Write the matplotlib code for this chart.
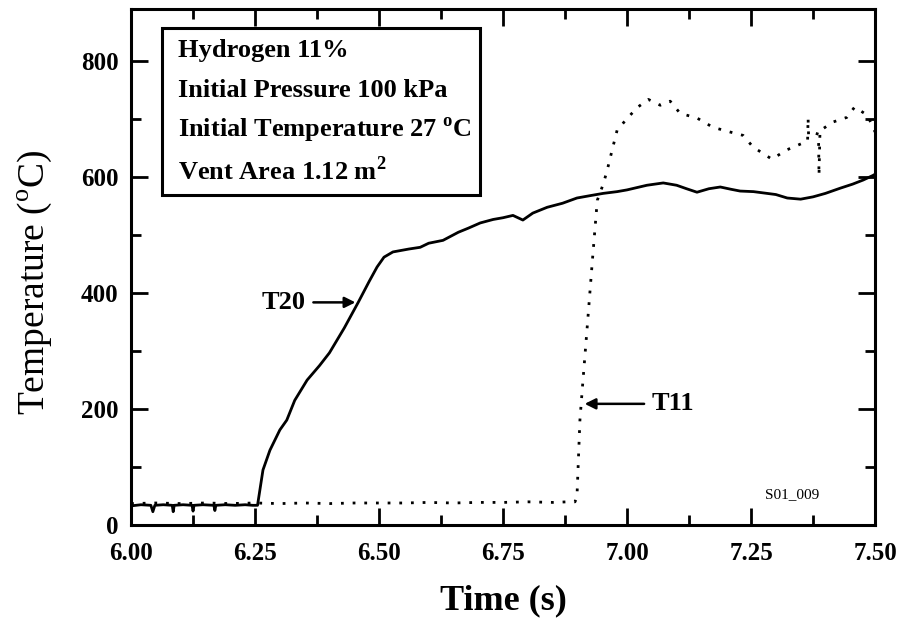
import matplotlib
matplotlib.use("Agg")
import matplotlib.pyplot as plt
from matplotlib.ticker import MultipleLocator

# T20 thermocouple (solid)
t20_time = [6.000, 6.020, 6.040, 6.044, 6.048, 6.065, 6.083, 6.085, 6.087, 6.105,
            6.123, 6.125, 6.127, 6.145, 6.167, 6.169, 6.171, 6.190, 6.210, 6.230,
            6.245, 6.255, 6.266, 6.280, 6.300, 6.314, 6.330, 6.355, 6.380, 6.400,
            6.430, 6.458, 6.480, 6.496, 6.510, 6.528, 6.560, 6.583, 6.600, 6.629,
            6.660, 6.680, 6.704, 6.730, 6.750, 6.770, 6.790, 6.810, 6.839, 6.870,
            6.899, 6.925, 6.952, 6.980, 7.000, 7.020, 7.040, 7.073, 7.100, 7.120,
            7.141, 7.165, 7.188, 7.210, 7.228, 7.255, 7.282, 7.300, 7.323, 7.350,
            7.375, 7.400, 7.430, 7.455, 7.476, 7.496, 7.500]
t20_temp = [33, 35, 34, 23, 34, 35, 34, 23, 34, 35,
            34, 24, 34, 35, 34, 25, 34, 35, 34, 35,
            34, 34, 95, 129, 164, 181, 215, 250, 275, 297,
            340, 384, 420, 445, 462, 471, 476, 479, 486, 491,
            505, 512, 521, 527, 530, 534, 526, 538, 548, 555,
            564, 568, 572, 575, 578, 582, 586, 590, 586, 580,
            574, 580, 583, 579, 576, 575, 572, 570, 564, 562,
            566, 572, 581, 588, 595, 603, 605]

# T11 thermocouple (dotted)
t11_time = [6.000, 6.050, 6.100, 6.150, 6.200, 6.250, 6.300, 6.350, 6.400, 6.450,
            6.500, 6.550, 6.600, 6.650, 6.700, 6.750, 6.800, 6.850, 6.880, 6.895,
            6.899, 6.905, 6.910, 6.920, 6.930, 6.940, 6.952, 6.960, 6.970, 6.980,
            7.002, 7.022, 7.043, 7.067, 7.087, 7.107, 7.141, 7.173, 7.207, 7.234,
            7.254, 7.292, 7.322, 7.355, 7.364, 7.365, 7.366, 7.379, 7.386, 7.387,
            7.389, 7.415, 7.443, 7.459, 7.484, 7.494, 7.500]
t11_temp = [37, 38, 37, 38, 37, 38, 37, 38, 37, 38,
            38, 38, 39, 38, 39, 39, 40, 39, 40, 40,
            48, 181, 237, 345, 455, 560, 588, 612, 647, 681,
            703, 721, 734, 724, 731, 710, 702, 686, 678, 672,
            652, 631, 647, 659, 662, 702, 672, 676, 674, 603,
            680, 695, 703, 721, 707, 690, 678]

x_ticks = [6.00, 6.25, 6.50, 6.75, 7.00, 7.25, 7.50]
y_ticks = [0, 200, 400, 600, 800]
info_lines = ["Hydrogen 11%",
              "Initial Pressure 100 kPa",
              "Initial Temperature 27 $^{\\mathbf{o}}$C",
              "Vent Area 1.12 m$^{\\mathbf{2}}$"]

plt.rcParams['font.family'] = ['Liberation Serif', 'DejaVu Serif']
plt.rcParams['mathtext.fontset'] = 'custom'
plt.rcParams['mathtext.rm'] = 'Liberation Serif'
plt.rcParams['mathtext.bf'] = 'Liberation Serif:bold'

fig = plt.figure(figsize=(9.05, 6.29), dpi=100)
ax = fig.add_axes([0.1448, 0.1653, 0.8221, 0.8204])

ax.plot(t20_time, t20_temp, color="black", linewidth=2.0)
ax.plot(t11_time, t11_temp, color="black", linewidth=2.0, linestyle=(0, (1, 3.2)))

ax.set_xlim(6.0, 7.5)
ax.set_ylim(0, 890)
ax.set_xticks(x_ticks)
ax.set_xticklabels([f"{v:.2f}" for v in x_ticks])
ax.set_yticks(y_ticks)
ax.xaxis.set_minor_locator(MultipleLocator(0.125))
ax.yaxis.set_minor_locator(MultipleLocator(100))
ax.tick_params(which="both", direction="in", top=True, right=True, width=2, labelsize=18)
ax.tick_params(which="major", length=12)
ax.tick_params(axis="x", which="major", pad=12)
ax.tick_params(axis="y", which="major", pad=9)
ax.tick_params(which="minor", length=7)
for lab in ax.get_xticklabels() + ax.get_yticklabels():
    lab.set_fontweight("bold")
for sp in ax.spines.values():
    sp.set_linewidth(2.2)

ax.set_xlabel("Time (s)", fontsize=26, fontweight="bold", labelpad=14)
ax.set_ylabel("Temperature ($^{\\mathrm{o}}$C)", fontsize=27)
ax.yaxis.set_label_coords(-0.104, 0.47)

# info box
ax.add_patch(plt.Rectangle((6.0625, 569), 0.6405, 288, fill=False, edgecolor="black",
                           linewidth=2.2, zorder=3))
for i, line in enumerate(info_lines):
    ax.text(6.094, 819 - i * 69, line, fontsize=19, fontweight="bold", va="center", ha="left")

# curve labels
ax.annotate("", xy=(6.458, 384), xytext=(6.362, 384),
            arrowprops=dict(arrowstyle="-|>", color="black", lw=1.8, mutation_scale=16))
ax.text(6.352, 384, "T20", fontsize=19, fontweight="bold", ha="right", va="center")
ax.annotate("", xy=(6.909, 209), xytext=(7.040, 209),
            arrowprops=dict(arrowstyle="-|>", color="black", lw=1.8, mutation_scale=16))
ax.text(7.050, 209, "T11", fontsize=19, fontweight="bold", ha="left", va="center")
ax.text(7.332, 52, "S01_009", fontsize=11, ha="center", va="center")

fig.savefig("out.png", dpi=100)
